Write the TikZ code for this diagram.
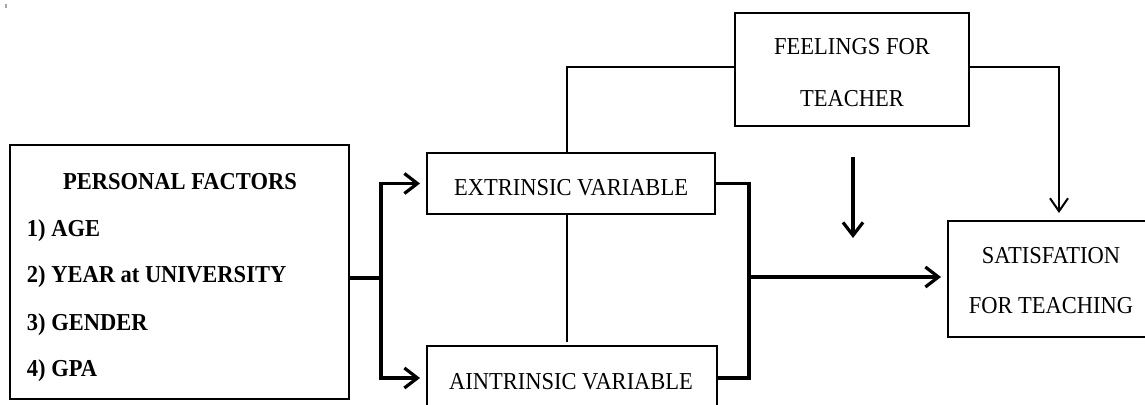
\documentclass[tikz,border=0pt]{standalone}
\usepackage{fontspec}
\setmainfont{Liberation Serif}
\usetikzlibrary{arrows.meta}

% slightly tall lettering
\newcommand{\tallword}[1]{\scalebox{1}[1.08]{#1}}

\tikzset{
  box/.style={draw, line width=2pt, inner sep=0pt},
  txt/.style={inner sep=0pt, font=\fontsize{22.5}{27}\selectfont},
  btxt/.style={txt, font=\fontsize{22.5}{27}\selectfont\bfseries},
  thinline/.style={line width=2pt},
  thickline/.style={line width=3.5pt},
  thinarrow/.style={thinline, -{Straight Barb[length=13pt, width=18pt, line width=2pt]}},
  thickarrow/.style={thickline, -{Straight Barb[length=13pt, width=20pt, line width=3.2pt]}, shorten >=6pt},
}

\begin{document}
\begin{tikzpicture}[x=1pt, y=-1pt]
  \useasboundingbox (0,0) rectangle (1145,404);
  \clip (0,0) rectangle (1145,404);

  % stray tick in the corner
  \fill[gray!70] (5,4) rectangle (7,8);

  % boxes
  \node[box, minimum width=339pt, minimum height=254pt] (pf) at (179.5,272) {};
  \node[box, minimum width=288pt, minimum height=61pt]  (ev) at (571,183.5) {};
  \node[box, minimum width=290pt, minimum height=64pt]  (av) at (572,378) {};
  \node[box, minimum width=234pt, minimum height=113pt] (fe) at (852,69.5) {};
  \node[box, minimum width=206pt, minimum height=116pt] (sf) at (1051,279) {};

  % personal factors list
  \node[btxt, anchor=base]      (pft)  at (180,189.3) {\tallword{PERSONAL FACTORS}};
  \node[btxt, anchor=base west] (pf1)  at (26.7,236)  {\tallword{1) AGE}};
  \node[btxt, anchor=base west] (pf2)  at (26.7,282.7) {\tallword{2) YEAR at UNIVERSITY}};
  \node[btxt, anchor=base west] (pf3)  at (26.7,330)  {\tallword{3) GENDER}};
  \node[btxt, anchor=base west] (pf4)  at (26.7,376.7) {\tallword{4) GPA}};

  % box labels
  \node[txt, anchor=base] (evt)  at (571,195) {\tallword{EXTRINSIC VARIABLE}};
  \node[txt, anchor=base] (avt)  at (571,389) {\tallword{AINTRINSIC VARIABLE}};
  \node[txt, anchor=base] (fet1) at (852,55)  {\tallword{FEELINGS FOR}};
  \node[txt, anchor=base] (fet2) at (852,106) {\tallword{TEACHER}};
  \node[txt, anchor=base] (sft1) at (1051,263) {\tallword{SATISFATION}};
  \node[txt, anchor=base] (sft2) at (1051,313) {\tallword{FOR TEACHING}};

  % junction points
  \coordinate (split) at (381,278);
  \coordinate (join)  at (749,277);
  \coordinate (top)   at (567,67);
  \coordinate (gapend) at (567,342);
  \coordinate (fright) at (1059,67);
  \coordinate (ftip)  at (1059,213);
  \coordinate (dstart) at (853,157);
  \coordinate (dend)  at (853,238);

  % personal factors to both variables
  \draw[thickline] (pf.east |- split) -- (split);
  \draw[thickarrow] (split) |- (ev.west);
  \draw[thickarrow] (split) |- (av.west);

  % thin links around the feelings box
  \draw[thinline] (top |- ev.north) -- (top) -- (fe.west |- top);
  \draw[thinline] (top |- ev.south) -- (gapend);
  \draw[thinarrow] (fe.east |- fright) -- (fright) -- (ftip);

  % both variables merge into satisfaction
  \draw[thickline, line join=miter] (ev.east) -| (join) |- (av.east);
  \draw[thickarrow] (join) -- (sf.west |- join);

  % moderating arrow
  \draw[thickarrow, shorten >=0pt] (dstart) -- (dend);
\end{tikzpicture}
\end{document}
